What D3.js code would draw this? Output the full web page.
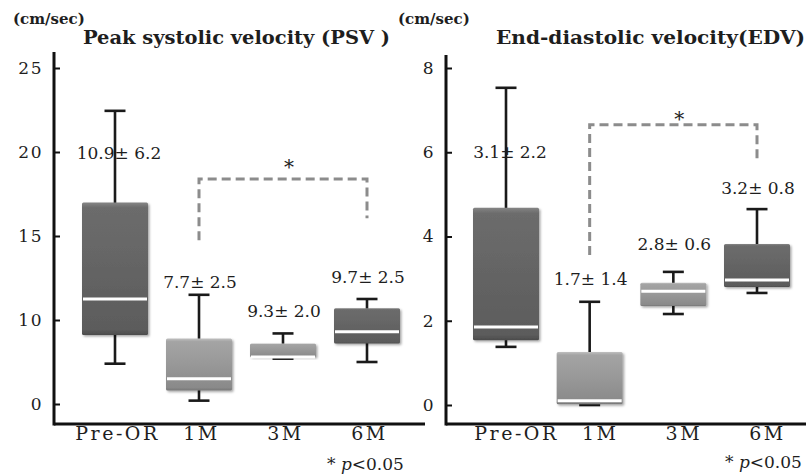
<!DOCTYPE html>
<html>
<head>
<meta charset="utf-8">
<script src="https://cdn.jsdelivr.net/npm/d3@7"></script>
<style>
  body { margin: 0; background: #fff; }
  text { font-family: "DejaVu Serif", serif; fill: #1e1e1e; }
  .title { font-weight: bold; }
</style>
</head>
<body>
<script>
// categories (x axis)
var categories = ["Pre-OR", "1M", "3M", "6M"]

// Peak systolic velocity (cm/sec): whisker low, Q1, median, Q3, whisker high
var psvMin    = [7.4, 5.2, 7.7, 7.5]
var psvQ1     = [9.1, 5.8, 7.8, 8.6]
var psvMedian = [11.25, 6.5, 7.8, 9.3]
var psvQ3     = [17.0, 8.9, 8.6, 10.7]
var psvMax    = [22.45, 11.5, 9.2, 11.25]
var psvText   = ["10.9\u00b1 6.2", "7.7\u00b1 2.5", "9.3\u00b1 2.0", "9.7\u00b1 2.5"]
var psvTextAt = [19.6, 11.9, 10.2, 12.2]
var psvTicks  = [5, 10, 15, 20, 25]
var psvTickLabels = ["0", "10", "15", "20", "25"]
var psvBracket = [14.75, 18.4, 16.05]   // left end, top, right end (1M -> 6M)

// End-diastolic velocity (cm/sec)
var edvMin    = [1.38, 0.0, 2.16, 2.66]
var edvQ1     = [1.54, 0.02, 2.35, 2.8]
var edvMedian = [1.85, 0.1, 2.7, 2.97]
var edvQ3     = [4.68, 1.26, 2.9, 3.82]
var edvMax    = [7.53, 2.45, 3.16, 4.65]
var edvText   = ["3.1\u00b1 2.2", "1.7\u00b1 1.4", "2.8\u00b1 0.6", "3.2\u00b1 0.8"]
var edvTextAt = [5.86, 2.85, 3.68, 5.01]
var edvTicks  = [0, 2, 4, 6, 8]
var edvTickLabels = ["0", "2", "4", "6", "8"]
var edvBracket = [3.56, 6.65, 5.75]

var darkBoxes = ["Pre-OR", "6M"]

var svg = d3.select('body').append('svg')
  .attr('width', 806)
  .attr('height', 475)

//gradients + shadow for the bevelled boxes
var defs = svg.append('defs')
function gradient(id, stops){
  var g = defs.append('linearGradient').attr('id', id)
    .attr('x1', 0).attr('x2', 0).attr('y1', 0).attr('y2', 1)
  stops.forEach(function(s){
    g.append('stop').attr('offset', s[0]).attr('stop-color', s[1])
  })
}
gradient('dark', [[0, '#858585'], [0.04, '#6c6c6c'], [0.5, '#646464'], [0.96, '#5c5c5c'], [1, '#4c4c4c']])
gradient('light', [[0, '#c0c0c0'], [0.06, '#a4a4a4'], [0.5, '#989898'], [0.94, '#8a8a8a'], [1, '#767676']])

var f = defs.append('filter').attr('id', 'shadow')
  .attr('x', '-10%').attr('y', '-10%').attr('width', '130%').attr('height', '130%')
f.append('feDropShadow').attr('dx', 1.5).attr('dy', 1.5).attr('stdDeviation', 1.2)
  .attr('flood-color', '#000').attr('flood-opacity', 0.35)

function drawPanel(p){
  var g = svg.append('g')

  var x = d3.scalePoint().domain(categories).range(p.xRange)
  var y = d3.scaleLinear().domain(p.yDomain).range(p.yRange)

  var rows = categories.map(function(c, i){
    return {cat: c, min: p.min[i], q1: p.q1[i], med: p.med[i], q3: p.q3[i], max: p.max[i],
            text: p.text[i], at: p.textAt[i]}
  })

  // y axis (ticks pointing inward)
  var yAxis = d3.axisLeft(y)
    .tickValues(p.ticks)
    .tickFormat(function(d, i){ return p.tickLabels[i] })
    .tickSizeInner(-6)
    .tickSizeOuter(0)
    .tickPadding(11)
  var ya = g.append('g')
    .attr('transform', 'translate(' + p.axisX + ',0)')
    .call(yAxis)
  ya.select('.domain').remove()
  ya.selectAll('line').attr('stroke', '#111').attr('stroke-width', 2)
  ya.selectAll('text').attr('font-size', '17px').attr('letter-spacing', '1.5px')

  // axis frame lines
  g.append('line')
    .attr('x1', p.axisX).attr('x2', p.axisX)
    .attr('y1', p.axisTop).attr('y2', p.axisBottom + 1.5)
    .attr('stroke', '#111').attr('stroke-width', 3)
  g.append('line')
    .attr('x1', p.axisX).attr('x2', p.axisEnd)
    .attr('y1', p.axisBottom).attr('y2', p.axisBottom)
    .attr('stroke', '#111').attr('stroke-width', 3)

  // x axis labels
  var xAxis = d3.axisBottom(x).tickSize(0).tickPadding(2)
  var xa = g.append('g')
    .attr('transform', 'translate(' + p.labelDx + ',' + p.axisBottom + ')')
    .call(xAxis)
  xa.select('.domain').remove()
  xa.selectAll('text').attr('font-size', '19px').attr('letter-spacing', '2.5px')

  var boxW = 66, capW = 21

  // whiskers
  var wk = g.selectAll('.whisker').data(rows).enter().append('g')
  wk.append('line')
    .attr('x1', function(d){ return x(d.cat) }).attr('x2', function(d){ return x(d.cat) })
    .attr('y1', function(d){ return y(d.max) }).attr('y2', function(d){ return y(d.min) })
  wk.append('line')
    .attr('x1', function(d){ return x(d.cat) - capW/2 }).attr('x2', function(d){ return x(d.cat) + capW/2 })
    .attr('y1', function(d){ return y(d.max) }).attr('y2', function(d){ return y(d.max) })
  wk.append('line')
    .attr('x1', function(d){ return x(d.cat) - capW/2 }).attr('x2', function(d){ return x(d.cat) + capW/2 })
    .attr('y1', function(d){ return y(d.min) }).attr('y2', function(d){ return y(d.min) })
  wk.selectAll('line').attr('stroke', '#1a1a1a').attr('stroke-width', 2.6)

  // boxes
  g.selectAll('.box').data(rows).enter().append('rect')
    .attr('x', function(d){ return x(d.cat) - boxW/2 })
    .attr('y', function(d){ return y(d.q3) })
    .attr('width', boxW)
    .attr('height', function(d){ return y(d.q1) - y(d.q3) })
    .attr('rx', 1.5)
    .attr('fill', function(d){ return darkBoxes.indexOf(d.cat) >= 0 ? 'url(#dark)' : 'url(#light)' })
    .attr('filter', 'url(#shadow)')

  // medians
  g.selectAll('.median').data(rows).enter().append('line')
    .attr('x1', function(d){ return x(d.cat) - boxW/2 + 1 })
    .attr('x2', function(d){ return x(d.cat) + boxW/2 - 1 })
    .attr('y1', function(d){ return y(d.med) }).attr('y2', function(d){ return y(d.med) })
    .attr('stroke', '#fff').attr('stroke-width', 3)

  // mean +- sd labels
  g.selectAll('.stat').data(rows).enter().append('text')
    .attr('x', function(d, i){ return x(d.cat) + (i == 0 ? 4 : 1) })
    .attr('y', function(d){ return y(d.at) })
    .attr('text-anchor', 'middle')
    .attr('font-size', '17px')
    .text(function(d){ return d.text })

  // significance bracket 1M -> 6M
  var bx1 = x("1M"), bx2 = x("6M")
  g.append('path')
    .attr('d', d3.line()([[bx1, y(p.bracket[0])], [bx1, y(p.bracket[1])], [bx2, y(p.bracket[1])], [bx2, y(p.bracket[2])]]))
    .attr('fill', 'none')
    .attr('stroke', '#8c8c8c')
    .attr('stroke-width', 3)
    .attr('stroke-dasharray', '9,5')
  g.append('text')
    .attr('x', (bx1 + bx2)/2 + 6)
    .attr('y', y(p.bracket[1]) - p.starGap)
    .attr('text-anchor', 'middle')
    .attr('font-size', '20px')
    .text('*')

  // titles
  g.append('text')
    .attr('class', 'title')
    .attr('x', p.unitX).attr('y', 24)
    .attr('font-size', '15px')
    .text('(cm/sec)')
  g.append('text')
    .attr('class', 'title')
    .attr('x', p.titleX).attr('y', 44)
    .attr('font-size', '19px')
    .attr('textLength', p.titleW)
    .attr('lengthAdjust', 'spacingAndGlyphs')
    .text(p.title)

  // p value note
  var note = g.append('text')
    .attr('x', p.noteX).attr('y', p.noteY)
    .attr('font-size', '17px')
  note.append('tspan').text('* ')
  note.append('tspan').attr('font-style', 'italic').text('p')
  note.append('tspan').text('<0.05')
}

drawPanel({
  xRange: [115, 367], yDomain: [5, 25], yRange: [404, 68],
  min: psvMin, q1: psvQ1, med: psvMedian, q3: psvQ3, max: psvMax,
  text: psvText, textAt: psvTextAt, ticks: psvTicks, tickLabels: psvTickLabels,
  bracket: psvBracket, starGap: 5,
  axisX: 54, axisTop: 52, axisBottom: 424, axisEnd: 425, labelDx: 2,
  unitX: 13, titleX: 83, titleW: 307, title: 'Peak systolic velocity (PSV )',
  noteX: 327, noteY: 470
})

drawPanel({
  xRange: [506, 757], yDomain: [0, 8], yRange: [405, 68],
  min: edvMin, q1: edvQ1, med: edvMedian, q3: edvQ3, max: edvMax,
  text: edvText, textAt: edvTextAt, ticks: edvTicks, tickLabels: edvTickLabels,
  bracket: edvBracket, starGap: -1,
  axisX: 446, axisTop: 55, axisBottom: 424, axisEnd: 806, labelDx: 10,
  unitX: 398, titleX: 496, titleW: 309, title: 'End-diastolic velocity(EDV)',
  noteX: 725, noteY: 468
})
</script>
</body>
</html>
